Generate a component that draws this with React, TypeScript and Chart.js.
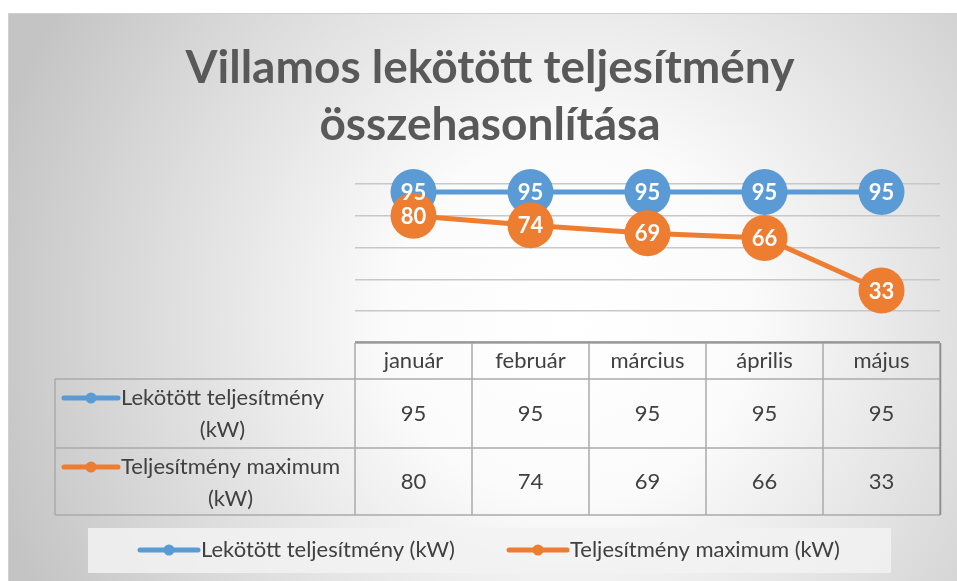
import React, { useEffect, useRef } from "react";
import { Chart, registerables } from "chart.js";

Chart.register(...registerables);

const TITLE_LINES = ["Villamos lekötött teljesítmény", "összehasonlítása"];
const MONTHS = ["január", "február", "március", "április", "május"];
const SERIES_NAMES = ["Lekötött teljesítmény (kW)", "Teljesítmény maximum (kW)"];
const ROW_HEADER_LINES = [
  ["Lekötött teljesítmény", "(kW)"],
  ["Teljesítmény maximum", "(kW)"],
];
const LEKOTOTT = [95, 95, 95, 95, 95];
const MAXIMUM = [80, 74, 69, 66, 33];
const COLORS = ["#5B9BD5", "#ED7D31"];
const Y_MIN = 0;
const Y_MAX = 100;
const Y_STEP = 20;

const FONT = "Lato, 'Open Sans', sans-serif";
const TEXT = "#404040";

const W = 957;
const H = 581;

function drawKey(ctx: CanvasRenderingContext2D, x1: number, x2: number, y: number, color: string) {
  ctx.save();
  ctx.strokeStyle = color;
  ctx.lineWidth = 5;
  ctx.lineCap = "round";
  ctx.beginPath();
  ctx.moveTo(x1, y);
  ctx.lineTo(x2, y);
  ctx.stroke();
  ctx.fillStyle = color;
  ctx.beginPath();
  ctx.arc((x1 + x2) / 2, y, 5.5, 0, Math.PI * 2);
  ctx.fill();
  ctx.restore();
}

const bgPlugin = {
  id: "bgPlugin",
  beforeDraw(chart: any) {
    const ctx = chart.ctx as CanvasRenderingContext2D;
    ctx.save();
    ctx.fillStyle = "#ffffff";
    ctx.fillRect(0, 0, W, H);
    const g = ctx.createRadialGradient(570, 320, 0, 570, 320, 600);
    g.addColorStop(0, "#ffffff");
    g.addColorStop(0.3, "#fbfbfb");
    g.addColorStop(0.75, "#d8d8d8");
    g.addColorStop(1, "#c4c4c4");
    ctx.fillStyle = g;
    ctx.fillRect(8, 13, W - 8, H - 13);
    ctx.strokeStyle = "#d0d0d0";
    ctx.lineWidth = 1;
    ctx.strokeRect(8.5, 13.5, W, H);
    ctx.restore();
  },
};

const overlayPlugin = {
  id: "overlayPlugin",
  afterDatasetsDraw(chart: any) {
    const ctx = chart.ctx as CanvasRenderingContext2D;
    ctx.save();
    ctx.fillStyle = "#ffffff";
    ctx.font = `bold 22px ${FONT}`;
    ctx.textAlign = "center";
    ctx.textBaseline = "middle";
    chart.data.datasets.forEach((ds: any, i: number) => {
      const meta = chart.getDatasetMeta(i);
      meta.data.forEach((pt: any, j: number) => {
        ctx.fillText(String(ds.data[j]), pt.x, pt.y + 1);
      });
    });
    ctx.restore();
  },
  afterDraw(chart: any) {
    const ctx = chart.ctx as CanvasRenderingContext2D;
    const area = chart.chartArea;
    const xs = chart.scales.x;
    ctx.save();

    // Title
    ctx.fillStyle = "#595959";
    ctx.font = `bold 46px ${FONT}`;
    ctx.textAlign = "center";
    ctx.textBaseline = "middle";
    ctx.fillText(TITLE_LINES[0], 490, 68);
    ctx.fillText(TITLE_LINES[1], 490, 125);

    // Data table
    const left = 55;
    const colL = area.left;
    const colR = area.right;
    const n = MONTHS.length;
    const colW = (colR - colL) / n;
    const rowTops = [area.bottom, 379, 448, 515];

    ctx.strokeStyle = "#ababab";
    ctx.lineWidth = 1.5;
    ctx.beginPath();
    ctx.moveTo(colL, rowTops[0]);
    ctx.lineTo(colR, rowTops[0]);
    for (let r = 1; r < rowTops.length; r++) {
      ctx.moveTo(left, rowTops[r]);
      ctx.lineTo(colR, rowTops[r]);
    }
    for (let c = 0; c <= n; c++) {
      const x = colL + c * colW;
      ctx.moveTo(x, rowTops[0]);
      ctx.lineTo(x, rowTops[3]);
    }
    ctx.moveTo(left, rowTops[1]);
    ctx.lineTo(left, rowTops[3]);
    ctx.stroke();

    ctx.strokeStyle = "#8c8c8c";
    ctx.lineWidth = 1.5;
    ctx.beginPath();
    ctx.moveTo(colL, rowTops[0] - 1);
    ctx.lineTo(colR, rowTops[0] - 1);
    ctx.moveTo(colR + 0.5, rowTops[0]);
    ctx.lineTo(colR + 0.5, rowTops[3]);
    ctx.stroke();

    ctx.fillStyle = TEXT;
    ctx.font = `22px ${FONT}`;
    ctx.textAlign = "center";
    ctx.textBaseline = "middle";
    MONTHS.forEach((m, i) => {
      const cx = xs.getPixelForValue(i);
      ctx.fillText(m, cx, (rowTops[0] + rowTops[1]) / 2);
    });
    const series = [LEKOTOTT, MAXIMUM];
    series.forEach((vals, r) => {
      const cy = (rowTops[r + 1] + rowTops[r + 2]) / 2;
      vals.forEach((v, i) => {
        ctx.fillText(String(v), xs.getPixelForValue(i), cy);
      });
      const lines = ROW_HEADER_LINES[r];
      const y1 = rowTops[r + 1] + 19;
      drawKey(ctx, 64, 118, y1, COLORS[r]);
      ctx.textAlign = "left";
      const w0 = ctx.measureText(lines[0]).width;
      ctx.fillText(lines[0], 121, y1);
      ctx.textAlign = "center";
      ctx.fillText(lines[1], 121 + w0 / 2, y1 + 32);
    });

    // Legend box
    ctx.fillStyle = "rgba(242,242,242,0.85)";
    ctx.fillRect(88, 528, 803, 45);
    const ly = 550;
    ctx.font = `22px ${FONT}`;
    ctx.textAlign = "left";
    ctx.fillStyle = TEXT;
    drawKey(ctx, 140, 198, ly, COLORS[0]);
    ctx.fillText(SERIES_NAMES[0], 201, ly);
    drawKey(ctx, 509, 567, ly, COLORS[1]);
    ctx.fillText(SERIES_NAMES[1], 570, ly);

    ctx.restore();
  },
};

export default function App() {
  const ref = useRef<HTMLCanvasElement | null>(null);
  useEffect(() => {
    if (!ref.current) return;
    const chart = new Chart(ref.current, {
      type: "line",
      data: {
        labels: MONTHS,
        datasets: [
          {
            label: SERIES_NAMES[0],
            data: LEKOTOTT,
            borderColor: COLORS[0],
            backgroundColor: COLORS[0],
            pointBackgroundColor: COLORS[0],
            pointBorderWidth: 0,
            pointRadius: 23,
            borderWidth: 5,
            order: 1,
            clip: false,
          } as any,
          {
            label: SERIES_NAMES[1],
            data: MAXIMUM,
            borderColor: COLORS[1],
            backgroundColor: COLORS[1],
            pointBackgroundColor: COLORS[1],
            pointBorderWidth: 0,
            pointRadius: 23,
            borderWidth: 5,
            order: 0,
            clip: false,
          } as any,
        ],
      },
      options: {
        responsive: false,
        animation: false,
        layout: { autoPadding: false, padding: { left: 355, right: 17, top: 184, bottom: 238 } },
        plugins: {
          legend: { display: false },
          title: { display: false },
          tooltip: { enabled: false },
        },
        scales: {
          x: { type: "category", offset: true, display: false },
          y: {
            min: Y_MIN,
            max: Y_MAX,
            ticks: { display: false, stepSize: Y_STEP },
            border: { display: false },
            grid: { color: "#c8c8c8", lineWidth: 1.5, drawTicks: false },
            afterFit: (s: any) => {
              s.width = 0;
            },
          },
        },
      },
      plugins: [bgPlugin, overlayPlugin],
    });
    return () => chart.destroy();
  }, []);
  return (
    <div style={{ position: "absolute", left: 0, top: 0, width: W, height: H }}>
      <canvas ref={ref} width={W} height={H} style={{ display: "block" }} />
    </div>
  );
}
